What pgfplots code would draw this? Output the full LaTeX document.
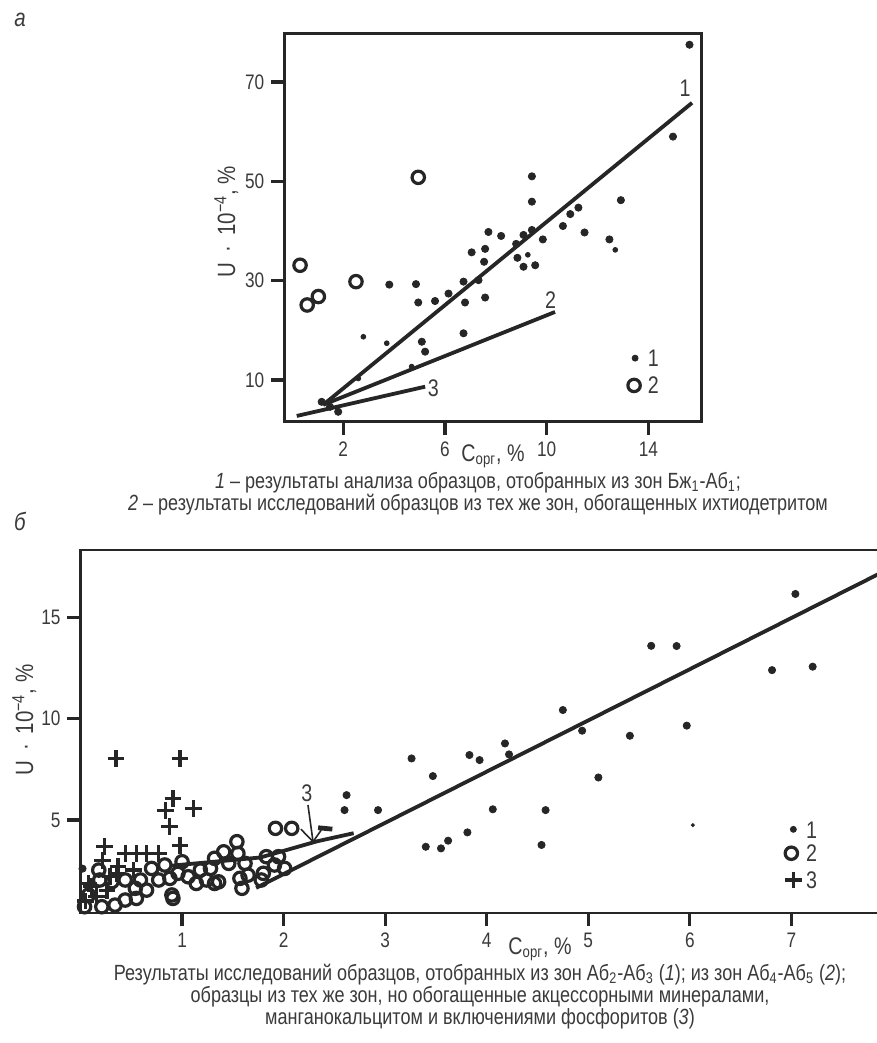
\documentclass[border=0pt]{standalone}
\usepackage{fontspec}
\setmainfont{Liberation Sans}[FakeStretch=0.82]
\usepackage{pgfplots}
\pgfplotsset{compat=1.18}
\definecolor{ink}{HTML}{262626}
\definecolor{txt}{HTML}{3A3A3A}
\newcommand\capfont{\fontsize{11}{13}\selectfont}
\newcommand\lfont{\fontsize{12}{14}\selectfont}
\newcommand\tfont{\fontsize{10.5}{12}\selectfont}
\pgfplotsset{
  myaxis/.style={
    scale only axis, clip=false,
    tick align=outside, xtick pos=bottom, ytick pos=left,
    major tick length=6.5pt,
    axis line style={ink, line width=1.3pt},
    every tick/.style={ink, line width=1.6pt},
    tick label style={font=\tfont, text=txt},
    /pgf/number format/assume math mode=true,
  },
  dots/.style={only marks, mark=*, mark size=1.8pt, ink},
  rings/.style={only marks, mark=o, mark size=3.1pt, mark options={line width=1.6pt}, ink},
  crosses/.style={only marks, mark=+, mark size=4.2pt, mark options={line width=1.6pt}, ink},
}
\begin{document}
\begin{tikzpicture}
\useasboundingbox (0,0) rectangle (438.5pt,-521.5pt);
% ---------------- panel a ----------------
\begin{axis}[myaxis,
  anchor=north west, at={(142.15pt,-16.65pt)},
  width=208.7pt, height=194.2pt,
  xmin=-0.32, xmax=16.1, ymin=1.6, ymax=79.8,
  xtick={2,6,10,14}, ytick={10,30,50,70}]
\addplot[ink, line width=1.9pt] coordinates {(1.21,5.0) (15.72,65.8)};
\addplot[ink, line width=1.9pt] coordinates {(1.21,5.0) (10.33,23.7)};
\addplot[ink, line width=1.9pt] coordinates {(0.17,2.76) (5.22,8.65)};
\addplot[dots] coordinates {
(15.62,77.5)(14.97,59.0)(12.92,46.2)(12.47,38.3)(11.49,39.7)(11.25,44.7)
(10.93,43.4)(10.64,41.0)(9.85,38.3)(9.42,51.0)(9.42,45.9)(9.42,40.2)
(9.09,39.2)(8.80,37.4)(8.85,34.6)(9.09,32.8)(9.55,33.1)(8.21,39.0)
(7.71,39.8)(7.58,36.4)(7.54,33.8)(7.58,26.6)(7.05,35.7)(7.32,30.1)
(6.73,29.8)(6.79,25.6)(6.73,19.4)(6.14,27.4)(5.61,25.9)(4.95,25.6)
(4.86,29.3)(3.81,29.2)(5.09,17.7)(5.22,15.7)(1.15,5.6)(1.48,4.6)(1.80,3.6)};
\addplot[dots, mark size=1.2pt] coordinates {
(12.70,36.2)(9.26,35.2)(2.79,18.7)(3.71,17.4)(4.69,12.7)(2.59,10.3)};
\addplot[rings] coordinates {(0.30,33.1)(0.58,25.1)(1.02,26.8)(2.50,29.8)(4.95,50.8)};
% legend
\addplot[dots, mark size=1.5pt] coordinates {(13.48,14.4)};
\addplot[rings] coordinates {(13.44,8.9)};
\node[font=\lfont, text=txt] at (axis cs:14.2,14.4) {1};
\node[font=\lfont, text=txt] at (axis cs:14.2,8.9) {2};
% line labels
\node[font=\lfont, text=txt] at (axis cs:15.45,68.7) {1};
\node[font=\lfont, text=txt] at (axis cs:10.16,26.1) {2};
\node[font=\lfont, text=txt] at (axis cs:5.54,8.3) {3};
\end{axis}
% ---------------- panel b ----------------
\begin{axis}[myaxis,
  anchor=north west, at={(40.25pt,-275pt)},
  width=406.2pt, height=181.5pt,
  xmin=0, xmax=8, ymin=0.41, ymax=18.33,
  xtick={1,2,3,4,5,6,7}, ytick={5,10,15}]
\addplot[ink, line width=1.9pt] coordinates {(1.73,1.65) (8.0,17.5)};
\addplot[ink, line width=1.9pt] coordinates {(0.9,2.75) (1.77,3.15) (2.33,3.95) (2.69,4.35)};
\addplot[ink, line width=2.4pt] coordinates {(2.34,4.62) (2.48,4.55)};
\addplot[dots] coordinates {
(2.62,6.23)(2.60,5.49)(2.93,5.49)(3.26,8.04)(3.47,7.17)(3.40,3.68)(3.55,3.6)
(3.62,3.98)(3.83,8.21)(3.93,7.96)(4.18,8.78)(4.22,8.24)(4.06,5.53)(3.81,4.39)
(4.54,3.77)(4.58,5.49)(4.75,10.43)(4.94,9.41)(5.10,7.1)(5.41,9.16)(5.62,13.6)
(5.87,13.59)(5.97,9.66)(6.81,12.4)(7.04,16.16)(7.21,12.57)(0.02,2.6)};
\addplot[dots, mark size=0.8pt] coordinates {(6.03,4.75)};
\addplot[rings] coordinates {
(0.04,0.72)(0.21,0.72)(0.34,0.80)(0.44,1.05)(0.55,1.13)(0.65,1.54)(0.54,1.63)
(0.90,1.30)(0.77,2.04)(0.88,2.12)(0.96,2.37)(1.00,2.94)(1.06,2.20)(1.14,1.87)
(1.24,2.04)(1.32,1.87)(1.28,2.61)(1.32,3.11)(1.41,3.43)(1.46,2.86)(1.54,3.93)
(1.55,3.35)(1.62,2.86)(1.57,2.12)(1.65,2.28)(1.80,2.37)(1.91,2.78)(2.01,2.61)
(1.95,3.19)(1.83,3.19)(1.78,2.04)(1.92,4.59)(2.08,4.59)(0.70,2.61)(0.83,2.78)
(0.18,2.53)(0.19,2.04)(0.31,1.96)(0.08,1.30)(0.44,2.04)(0.59,2.04)(1.18,2.53)
(1.59,1.63)(1.36,1.95)(0.91,1.13)};
\addplot[crosses] coordinates {
(0.35,8.04)(0.98,8.04)(0.91,6.07)(0.84,5.49)(1.11,5.58)(0.88,4.67)(0.24,3.71)
(0.44,3.35)(0.55,3.35)(0.65,3.35)(0.77,3.35)(0.98,3.76)(0.22,3.02)(0.08,1.87)
(0.36,2.37)(0.52,2.53)(0.26,1.54)(0.16,1.21)(0.29,2.2)(0.11,1.71)(0.37,2.69)(0.05,1.0)};
% arrow to line 3
\draw[ink, line width=0.8pt] (axis cs:2.24,5.74) -- (axis cs:2.29,3.93);
\draw[ink, line width=0.8pt] (axis cs:2.17,4.55) -- (axis cs:2.29,3.93) -- (axis cs:2.37,4.5);
\node[font=\lfont, text=txt] at (axis cs:2.23,6.32) {3};
% legend
\addplot[dots, mark size=1.5pt] coordinates {(7.02,4.54)};
\addplot[rings] coordinates {(7.00,3.36)};
\addplot[crosses] coordinates {(7.02,2.04)};
\node[font=\lfont, text=txt] at (axis cs:7.2,4.5) {1};
\node[font=\lfont, text=txt] at (axis cs:7.2,3.35) {2};
\node[font=\lfont, text=txt] at (axis cs:7.2,2.04) {3};
\end{axis}
% ---------------- texts ----------------
\node[font=\fontsize{12.5}{14}\selectfont\itshape, text=txt] at (10pt,-10pt) {а};
\node[font=\fontsize{12.5}{14}\selectfont\itshape, text=txt] at (10pt,-260.5pt) {б};
\node[font=\fontsize{12.5}{14}\selectfont, text=txt, rotate=90, anchor=base] at (117.5pt,-110.75pt) {U \,·\, 10\textsuperscript{−4}, \%};
\node[font=\fontsize{12.5}{14}\selectfont, text=txt, rotate=90, anchor=base] at (16.5pt,-360pt) {U \,·\, 10\textsuperscript{−4}, \%};
\node[font=\fontsize{12}{14}\selectfont, text=txt, anchor=base] at (246.5pt,-230.5pt) {C\textsubscript{орг}, \%};
\node[font=\fontsize{12}{14}\selectfont, text=txt, anchor=base] at (270pt,-477pt) {C\textsubscript{орг}, \%};
\node[font=\capfont, text=txt, anchor=base] at (239pt,-244pt) {\textit{1} – результаты анализа образцов, отобранных из зон Бж\textsubscript{1}-Аб\textsubscript{1};};
\node[font=\capfont, text=txt, anchor=base] at (239pt,-255pt) {\textit{2} – результаты исследований образцов из тех же зон, обогащенных ихтиодетритом};
\node[font=\capfont, text=txt, anchor=base] at (240pt,-490pt) {Результаты исследований образцов, отобранных из зон Аб\textsubscript{2}-Аб\textsubscript{3} (\textit{1}); из зон Аб\textsubscript{4}-Аб\textsubscript{5} (\textit{2});};
\node[font=\capfont, text=txt, anchor=base] at (240pt,-501pt) {образцы из тех же зон, но обогащенные акцессорными минералами,};
\node[font=\capfont, text=txt, anchor=base] at (240pt,-512pt) {манганокальцитом и включениями фосфоритов (\textit{3})};
\end{tikzpicture}
\end{document}
